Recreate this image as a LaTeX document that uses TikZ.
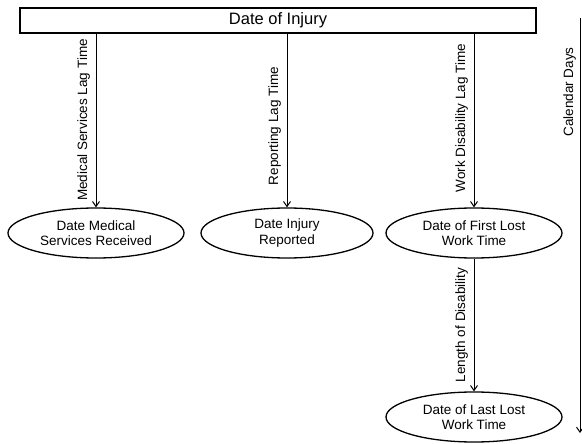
\documentclass[tikz,border=0pt]{standalone}
\usepackage{fontspec}
\setmainfont{Liberation Sans}
\usetikzlibrary{shapes.geometric,arrows.meta}
\begin{document}
\begin{tikzpicture}[x=1pt,y=-1pt,
  every node/.style={font=\fontsize{13.5}{15.5}\selectfont, inner sep=0pt},
  ev/.style={ellipse, draw, line width=1.3pt, minimum width=176pt, minimum height=50pt, align=center},
  top/.style={draw, line width=1.3pt, minimum width=516pt, minimum height=25pt, font=\fontsize{16.5}{18}\selectfont},
  conn/.style={line width=1pt, -{Straight Barb[length=5pt,width=7pt,line width=1pt]}},
  lbl/.style={rotate=90, anchor=base}]
\useasboundingbox (0,0) rectangle (582,444);
\node[top] (inj) at (278,20.5) {Date of Injury};
\node[ev] (med) at (96,233) {Date Medical\\Services Received};
\node[ev, minimum width=172pt] (rep) at (287,233) {Date Injury\\Reported};
\node[ev] (first) at (474,233) {Date of First Lost\\Work Time};
\node[ev] (last) at (474,417) {Date of Last Lost\\Work Time};
\draw[conn] (inj.south -| med.north) -- (med.north);
\draw[conn] (inj.south -| rep.north) -- (rep.north);
\draw[conn] (inj.south -| first.north) -- (first.north);
\draw[conn] (first.south) -- (last.north);
\node[lbl] (l1) at (87,120) {Medical Services Lag Time};
\node[lbl] (l2) at (278,126) {Reporting Lag Time};
\node[lbl] (l3) at (465,118) {Work Disability Lag Time};
\node[lbl] (l4) at (465,325) {Length of Disability};
\coordinate (c1) at (580,18);
\coordinate (c2) at (580,433);
\draw[conn] (c1) -- (c2);
\node[lbl] (cal) at (573,92) {Calendar Days};
\end{tikzpicture}
\end{document}
